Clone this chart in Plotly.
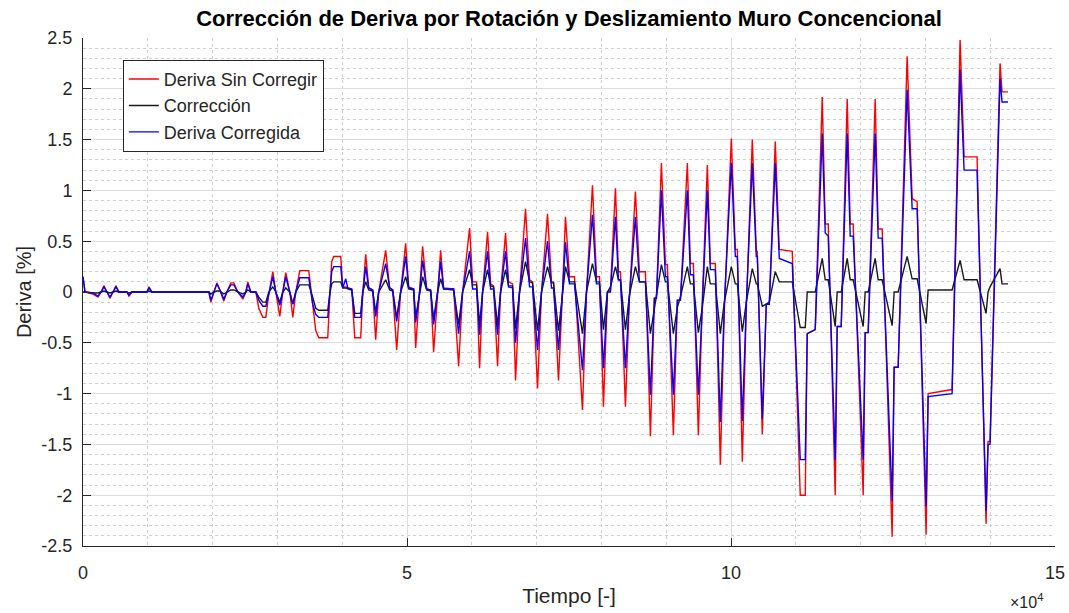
import plotly.graph_objects as go

# ---- data ----
tiempo = [
    0, 308, 1542, 2312, 2775, 3237, 3700, 4162, 4625, 5087,
    5550, 6783, 7091, 7554, 9866, 10175, 10637, 19424, 19732, 20195,
    20657, 21120, 21737, 22199, 22816, 23278, 23895, 24666, 25128, 25436,
    25899, 26670, 27132, 27749, 28211, 28674, 29290, 29753, 30370, 30832,
    31294, 31911, 32374, 32836, 33453, 34840, 35457, 35919, 36382, 37769,
    38078, 38386, 38694, 39773, 40082, 40544, 40852, 41469, 41932, 42856,
    43165, 43627, 44090, 44706, 45169, 45631, 46710, 47327, 47790, 48406,
    49023, 49794, 50256, 51027, 51335, 51952, 52414, 53031, 53648, 54110,
    54727, 55189, 55652, 57193, 57964, 58581, 59660, 60122, 60739, 61202,
    61664, 62435, 62897, 63360, 63976, 64439, 65210, 65672, 66289, 66751,
    67368, 68293, 68910, 69372, 70143, 70759, 71684, 72301, 72609, 73380,
    73997, 74459, 75076, 75847, 77080, 77697, 78622, 79238, 79701, 80317,
    80934, 81396, 82167, 82630, 82938, 83709, 84326, 85250, 85867, 86792,
    87563, 88180, 88488, 89259, 89875, 90184, 91109, 91725, 92188, 93267,
    93729, 94192, 94963, 95579, 96350, 96812, 97583, 98354, 98971, 100050,
    100666, 100975, 101746, 102362, 103287, 103904, 104058, 104829, 105445, 105908,
    106833, 107450, 109454, 110687, 111458, 111766, 113000, 114078, 114541, 115003,
    116082, 116391, 117007, 117932, 118395, 118857, 120399, 120707, 121170, 122249,
    122711, 123328, 124870, 125178, 125795, 127182, 127953, 128724, 130111, 130419,
    134119, 135352, 135969, 137973, 139361, 139669, 139977, 141519, 141827, 142752,
]

deriva_sin_corregir = [
    0.15, 0, -0.02, -0.05, 0, 0.06, 0, -0.06, 0, 0.06,
    0, 0, -0.04, 0, 0, 0.05, 0, 0, -0.10, 0,
    0.09, 0.02, -0.09, 0, 0.09, 0.09, 0, -0.07, 0, 0.10,
    0, 0, -0.16, -0.25, -0.25, -0.02, 0.20, 0, -0.24, 0,
    0.19, 0, -0.25, 0, 0.21, 0.21, -0.15, -0.38, -0.45, -0.45,
    -0.05, 0.30, 0.35, 0.35, 0.05, 0.05, 0.04, 0.03, -0.45, -0.45,
    -0.02, 0.37, 0.04, 0.02, -0.47, 0, 0.41, 0.04, 0.02, -0.57,
    0, 0.48, 0.05, 0.03, -0.55, 0, 0.45, 0.03, 0.02, -0.59,
    0, 0.41, 0.04, 0.03, -0.73, 0, 0.63, 0.10, 0.10, -0.75,
    0, 0.59, 0.08, 0.06, -0.73, 0, 0.58, 0.10, 0.08, -0.87,
    0, 0.82, 0.12, 0.10, -0.95, 0, 0.77, 0.10, 0.10, -0.87,
    0, 0.74, 0.15, 0.15, -1.16, 0, 1.05, 0.15, 0.15, -1.13,
    0, 0.02, 1.02, 0.20, 0.20, -1.13, -0.05, 0.99, 0.20, 0.20,
    -1.42, -0.06, -0.06, 1.27, 0.27, 0.27, -1.41, -0.08, -0.08, 1.27,
    0.28, 0.28, -1.41, -0.08, 1.25, 0.28, 0.28, -1.70, -0.18, 1.51,
    0.42, 0.42, -1.67, -0.15, 1.50, 0.40, 0.40, -1.40, -0.12, -0.12,
    1.48, 0.42, 0.40, -2.00, -2.00, -0.41, -0.37, 1.92, 0.67, 0.67,
    -2.00, -0.34, -0.34, 1.90, 0.67, 0.67, -2.00, -0.40, -0.40, 1.90,
    0.62, 0.62, -2.41, -0.74, -0.74, 2.32, 0.92, 0.89, -2.39, -1.00,
    -0.96, 2.48, 1.33, 1.33, -2.28, -1.47, -1.47, 2.25, 1.97, 1.97,
]

correccion = [
    0, 0, -0.01, -0.01, 0, 0.01, 0, -0.01, 0, 0.01,
    0, 0, -0.01, 0, 0, 0.01, 0, 0, -0.02, 0,
    0.01, 0.01, -0.02, 0, 0.02, 0.02, 0, -0.02, 0, 0.02,
    0, 0, -0.05, -0.10, -0.10, 0, 0.05, 0, -0.10, 0,
    0.04, 0, -0.12, 0, 0.07, 0.07, -0.05, -0.16, -0.18, -0.18,
    -0.02, 0.08, 0.10, 0.10, 0.04, 0.04, 0.03, 0.02, -0.21, -0.21,
    0, 0.10, 0.02, 0.01, -0.20, 0, 0.12, 0.02, 0.01, -0.25,
    0, 0.15, 0.03, 0.02, -0.25, 0, 0.15, 0.02, 0.01, -0.27,
    0, 0.13, 0.03, 0.02, -0.32, 0, 0.22, 0.07, 0.07, -0.32,
    0, 0.22, 0.06, 0.05, -0.33, 0, 0.22, 0.06, 0.06, -0.36,
    0, 0.30, 0.10, 0.09, -0.38, 0, 0.25, 0.09, 0.09, -0.38,
    0, 0.25, 0.10, 0.10, -0.41, 0, 0.28, 0.10, 0.10, -0.37,
    0, 0.05, 0.25, 0.12, 0.12, -0.37, -0.03, 0.25, 0.10, 0.10,
    -0.41, -0.15, -0.05, 0.27, 0.10, 0.10, -0.41, -0.15, -0.05, 0.25,
    0.08, 0.08, -0.40, -0.15, 0.25, 0.08, 0.08, -0.41, -0.10, 0.25,
    0.08, 0.08, -0.39, -0.10, 0.23, 0.08, 0.08, -0.14, -0.12, -0.10,
    0.20, 0.10, 0.10, -0.35, -0.35, 0, 0, 0.33, 0.12, 0.12,
    -0.34, 0, 0, 0.33, 0.12, 0.12, -0.34, 0, 0, 0.33,
    0.12, 0.12, -0.33, 0, 0, 0.35, 0.13, 0.13, -0.31, 0.02,
    0.02, 0.31, 0.12, 0.12, -0.21, 0, 0.05, 0.23, 0.08, 0.08,
]

deriva_corregida = [
    0.15, 0, -0.01, -0.04, 0, 0.05, 0, -0.05, 0, 0.05,
    0, 0, -0.03, 0, 0, 0.04, 0, 0, -0.08, 0,
    0.08, 0.02, -0.07, 0, 0.07, 0.07, 0, -0.05, 0, 0.08,
    0, 0, -0.08, -0.14, -0.14, -0.02, 0.15, 0, -0.13, 0,
    0.15, 0, -0.12, 0, 0.14, 0.14, -0.12, -0.22, -0.25, -0.25,
    -0.04, 0.20, 0.25, 0.25, 0.04, 0.13, 0.04, 0.03, -0.25, -0.25,
    -0.02, 0.25, 0.04, 0.02, -0.24, 0, 0.28, 0.04, 0.02, -0.29,
    0, 0.35, 0.04, 0.03, -0.30, 0, 0.31, 0.03, 0.02, -0.32,
    0, 0.30, 0.03, 0.03, -0.41, 0, 0.40, 0.03, 0.03, -0.42,
    0, 0.40, 0.03, 0.03, -0.42, 0, 0.40, 0.05, 0.04, -0.50,
    0, 0.53, 0.05, 0.05, -0.57, 0, 0.50, 0.04, 0.04, -0.57,
    0, 0.49, 0.08, 0.08, -0.77, 0, 0.76, 0.08, 0.08, -0.75,
    0, 0, 0.74, 0.12, 0.12, -0.75, -0.05, 0.74, 0.10, 0.10,
    -1.01, -0.06, -0.06, 1.00, 0.15, 0.15, -1.01, -0.08, -0.08, 1.00,
    0.17, 0.17, -1.01, -0.08, 1.00, 0.22, 0.22, -1.28, -0.12, 1.27,
    0.35, 0.35, -1.27, -0.12, 1.27, 0.35, 0.35, -1.25, -0.12, -0.12,
    1.27, 0.33, 0.28, -1.65, -1.65, -0.41, -0.37, 1.56, 0.58, 0.55,
    -1.65, -0.34, -0.34, 1.56, 0.55, 0.55, -1.65, -0.40, -0.40, 1.56,
    0.53, 0.53, -2.06, -0.74, -0.74, 1.99, 0.82, 0.82, -2.11, -1.03,
    -1.00, 2.19, 1.20, 1.20, -2.15, -1.50, -1.50, 2.10, 1.87, 1.87,
]

assert len(tiempo) == len(deriva_sin_corregir) == len(correccion) == len(deriva_corregida)

y_ticks = [-2.5, -2, -1.5, -1, -0.5, 0, 0.5, 1, 1.5, 2, 2.5]
y_tick_text = ["-2.5", "-2", "-1.5", "-1", "-0.5", "0", "0.5", "1", "1.5", "2", "2.5"]
x_ticks = [0, 50000, 100000, 150000]
x_tick_text = ["0", "5", "10", "15"]

FONT = "Liberation Sans, Arial, Helvetica, sans-serif"
AX = "#262626"

fig = go.Figure()
fig.add_trace(go.Scatter(x=tiempo, y=deriva_sin_corregir, mode="lines",
                         name="Deriva Sin Corregir", line=dict(color="#ff0000", width=1.4)))
fig.add_trace(go.Scatter(x=tiempo, y=correccion, mode="lines",
                         name="Corrección", line=dict(color="#1a1a1a", width=1.4)))
fig.add_trace(go.Scatter(x=tiempo, y=deriva_corregida, mode="lines",
                         name="Deriva Corregida", line=dict(color="#0000ff", width=1.4)))

fig.update_layout(
    width=1069, height=613,
    margin=dict(l=83, r=14, t=38, b=67),
    paper_bgcolor="white", plot_bgcolor="white",
    font=dict(family=FONT, color=AX, size=18),
    title=dict(text="<b>Corrección de Deriva por Rotación y Deslizamiento Muro Concencional</b>",
               x=0.5, xref="paper", y=1 - 18 / 613, yref="container", yanchor="middle",
               font=dict(family=FONT, size=22, color="#000000")),
    showlegend=True,
    legend=dict(x=0.041, y=0.957, xanchor="left", yanchor="top",
                bgcolor="white", bordercolor=AX, borderwidth=1,
                font=dict(family=FONT, size=18, color=AX), tracegroupgap=0),
)

fig.update_xaxes(
    range=[0, 150000], tickvals=x_ticks, ticktext=x_tick_text, automargin=False,
    ticks="inside", ticklen=8, tickcolor=AX, ticklabelstandoff=10,
    showline=True, linecolor=AX, linewidth=1, mirror=False,
    showgrid=True, gridcolor="#dcdcdc", gridwidth=1, zeroline=False,
    minor=dict(dtick=10000, tick0=0, showgrid=True, gridcolor="#cfcfcf", griddash="dot", ticks=""),
    tickfont=dict(size=18, color=AX),
    title=dict(text="Tiempo [-]", font=dict(size=21, color=AX), standoff=6),
)
fig.update_yaxes(
    range=[-2.5, 2.5], tickvals=y_ticks, ticktext=y_tick_text, automargin=False,
    ticks="inside", ticklen=8, tickcolor=AX, ticklabelstandoff=6,
    showline=True, linecolor=AX, linewidth=1, mirror=False,
    showgrid=True, gridcolor="#dcdcdc", gridwidth=1, zeroline=False,
    minor=dict(dtick=0.1, tick0=0, showgrid=True, gridcolor="#cfcfcf", griddash="dot", ticks=""),
    tickfont=dict(size=18, color=AX),
    title=dict(text="Deriva [%]", font=dict(size=20, color=AX), standoff=4),
)

fig.add_annotation(text="×10<sup>4</sup>", xref="paper", yref="paper",
                   x=0.99, y=-0.085, xanchor="right", yanchor="top", showarrow=False,
                   font=dict(family=FONT, size=16, color=AX))

fig.write_html("out.html")
